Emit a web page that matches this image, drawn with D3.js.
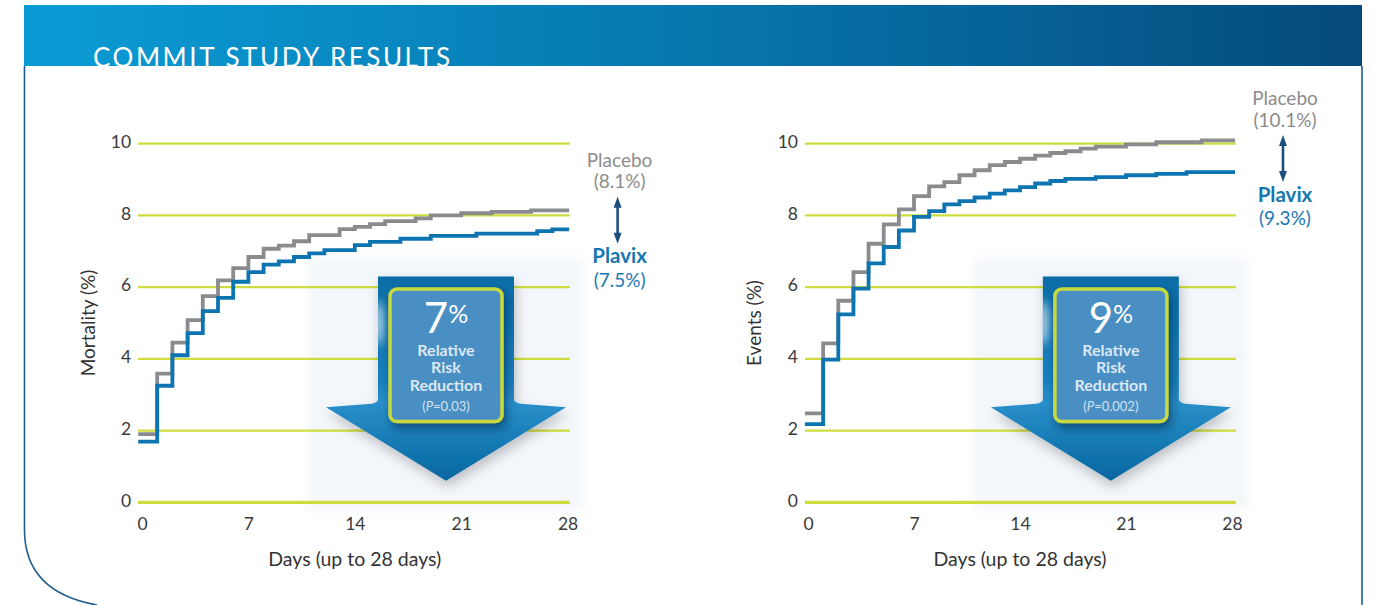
<!DOCTYPE html>
<html>
<head>
<meta charset="utf-8">
<script src="https://cdn.jsdelivr.net/npm/d3@7"></script>
<style>
  html, body { margin: 0; padding: 0; background: #ffffff; }
  svg { display: block; font-family: Lato, "Open Sans", "DejaVu Sans", sans-serif; }
</style>
</head>
<body>
<svg id="chart" width="1373" height="605"></svg>
<script>
// ---------------- DATA ----------------
const titleText = "COMMIT STUDY RESULTS";
const xTicks = [0, 7, 14, 21, 28];
const yTicks = [0, 2, 4, 6, 8, 10];
const xAxisTitle = "Days (up to 28 days)";
const yTitles = ["Mortality (%)", "Events (%)"];

// [day, cumulative %] step points
const placeboMortality = [[-0.25,1.90],[1,3.59],[2,4.45],[3,5.08],[4,5.75],[5,6.19],[6,6.53],[7,6.84],[8,7.07],[9,7.16],[10,7.28],[11,7.45],[13,7.62],[14,7.68],[15,7.76],[16,7.84],[18,7.92],[19,8.00],[21,8.06],[23,8.10],[25.6,8.14],[28.1,8.14]];
const plavixMortality  = [[-0.25,1.69],[1,3.25],[2,4.10],[3,4.72],[4,5.33],[5,5.70],[6,6.15],[7,6.42],[8,6.63],[9,6.72],[10,6.84],[11,6.94],[12,7.03],[14,7.17],[15,7.26],[17,7.35],[19,7.43],[22,7.49],[26,7.56],[27,7.61],[28.1,7.61]];
const placeboEvents    = [[-0.2,2.48],[1,4.43],[2,5.62],[3,6.42],[4,7.21],[5,7.75],[6,8.17],[7,8.54],[8,8.81],[9,8.93],[10,9.12],[11,9.26],[12,9.40],[13,9.49],[14,9.58],[15,9.67],[16,9.74],[17,9.79],[18,9.86],[19,9.92],[21,9.98],[23,10.04],[26,10.09],[28.2,10.09]];
const plavixEvents     = [[-0.2,2.18],[1,3.98],[2,5.24],[3,5.96],[4,6.66],[5,7.12],[6,7.58],[7,7.96],[8,8.12],[9,8.31],[10,8.40],[11,8.50],[12,8.61],[13,8.70],[14,8.79],[15,8.89],[16,8.96],[17,9.02],[19,9.07],[21,9.12],[23,9.16],[25,9.21],[28.2,9.21]];

const seriesNames = ["Placebo", "Plavix"];
const endLabels = [["(8.1%)", "(7.5%)"], ["(10.1%)", "(9.3%)"]];
const rrrPercent = ["7", "9"];
const rrrLines = ["Relative", "Risk", "Reduction"];
const pValues = ["0.03", "0.002"];

// ---------------- SETUP ----------------
const svg = d3.select("#chart");
const defs = svg.append("defs");

const hg = defs.append("linearGradient").attr("id", "headGrad").attr("x1", "0").attr("x2", "1").attr("y1", "0").attr("y2", "0");
hg.append("stop").attr("offset", "0").attr("stop-color", "#0b9cd5");
hg.append("stop").attr("offset", "0.5").attr("stop-color", "#0677ae");
hg.append("stop").attr("offset", "1").attr("stop-color", "#054a7b");

const ag = defs.append("linearGradient").attr("id", "arrowGrad").attr("x1", "0").attr("x2", "0").attr("y1", "0").attr("y2", "1");
ag.append("stop").attr("offset", "0").attr("stop-color", "#0a6ca6");
ag.append("stop").attr("offset", "0.5").attr("stop-color", "#1680bf");
ag.append("stop").attr("offset", "0.62").attr("stop-color", "#2a8fca");
ag.append("stop").attr("offset", "1").attr("stop-color", "#05669f");

const sh = defs.append("filter").attr("id", "arrowShadow").attr("x", "-30%").attr("y", "-30%").attr("width", "160%").attr("height", "160%");
sh.append("feDropShadow").attr("dx", 2).attr("dy", 6).attr("stdDeviation", 6).attr("flood-color", "#000").attr("flood-opacity", 0.22);

const bs = defs.append("filter").attr("id", "boxShadow").attr("x", "-30%").attr("y", "-30%").attr("width", "160%").attr("height", "160%");
bs.append("feDropShadow").attr("dx", 3).attr("dy", 5).attr("stdDeviation", 5).attr("flood-color", "#02223d").attr("flood-opacity", 0.55);

const gl = defs.append("filter").attr("id", "glow").attr("x", "-20%").attr("y", "-20%").attr("width", "140%").attr("height", "140%");
gl.append("feGaussianBlur").attr("stdDeviation", 5);

const hl = defs.append("filter").attr("id", "hilite").attr("x", "-200%").attr("y", "-100%").attr("width", "500%").attr("height", "300%");
hl.append("feGaussianBlur").attr("stdDeviation", 4);

defs.append("clipPath").attr("id", "headClip").append("rect").attr("x", 24).attr("y", 5).attr("width", 1338).attr("height", 61);

// ---------------- HEADER & FRAME ----------------
svg.append("rect").attr("x", 24).attr("y", 5).attr("width", 1338).attr("height", 61).attr("fill", "url(#headGrad)");
svg.append("text").attr("x", 93).attr("y", 66.5).attr("clip-path", "url(#headClip)")
  .attr("fill", "#ffffff").attr("font-size", 26).attr("textLength", 357).attr("lengthAdjust", "spacing")
  .text(titleText);

svg.append("path").attr("d", "M24.5,66 L24.5,530 Q24.5,592 97,605")
  .attr("fill", "none").attr("stroke", "#1f5d8f").attr("stroke-width", 1.6);
svg.append("line").attr("x1", 1362).attr("x2", 1362).attr("y1", 66).attr("y2", 605)
  .attr("stroke", "#1f5d8f").attr("stroke-width", 1.6);

// ---------------- PANELS ----------------
const y = d3.scaleLinear().domain([0, 10]).range([502.3, 143.7]);
const panels = [
  { x: d3.scaleLinear().domain([0, 28]).range([142, 567.6]), placebo: placeboMortality, plavix: plavixMortality, yTitle: yTitles[0], titleX: 95, gridStart: -0.26, gridEnd: 28.15, labelDx: 52, labelTop: 166.7 },
  { x: d3.scaleLinear().domain([0, 28]).range([808, 1232]), placebo: placeboEvents, plavix: plavixEvents, yTitle: yTitles[1], titleX: 761, gridStart: -0.2, gridEnd: 28.25, labelDx: 53, labelTop: 105 }
];

panels.forEach((p, i) => {
  const x = p.x;
  const g = svg.append("g");

  // soft light panel behind arrow
  const cx = x(20);
  g.append("rect").attr("x", cx - 138).attr("y", y(6.8)).attr("width", 276).attr("height", y(-0.2) - y(6.8))
    .attr("fill", "#f1f5f9").attr("opacity", 0.8).attr("filter", "url(#glow)");

  // gridlines
  g.append("g").selectAll("line").data(yTicks).join("line")
    .attr("x1", x(p.gridStart)).attr("x2", x(p.gridEnd))
    .attr("y1", d => y(d)).attr("y2", d => y(d))
    .attr("stroke", "#cfdc3e").attr("stroke-width", d => d === 0 ? 3.2 : 2.3);

  // axes
  const ya = g.append("g").attr("transform", `translate(${x(p.gridStart)},0)`)
    .call(d3.axisLeft(y).tickValues(yTicks).tickSize(0).tickPadding(7).tickFormat(d3.format("d")));
  ya.select(".domain").remove();
  ya.selectAll("text").attr("font-size", 17.5).attr("fill", "#3a3a3a").attr("font-family", "Lato, sans-serif").attr("dy", "0.22em");

  const xa = g.append("g").attr("transform", `translate(0,${y(0)})`)
    .call(d3.axisBottom(x).tickValues(xTicks).tickSize(0).tickPadding(15).tickFormat(d3.format("d")));
  xa.select(".domain").remove();
  xa.selectAll("text").attr("font-size", 17.5).attr("fill", "#3a3a3a").attr("font-family", "Lato, sans-serif");

  g.append("text").attr("x", x(14)).attr("y", 566).attr("text-anchor", "middle")
    .attr("font-size", 19.5).attr("fill", "#333").text(xAxisTitle);
  g.append("text").attr("transform", `translate(${p.titleX},${y(5)}) rotate(-90)`).attr("text-anchor", "middle")
    .attr("font-size", 19).attr("fill", "#333").text(p.yTitle);

  // step lines
  const line = d3.line().x(d => x(d[0])).y(d => y(d[1])).curve(d3.curveStepAfter);
  g.append("path").datum(p.placebo).attr("d", line).attr("fill", "none")
    .attr("stroke", "#8a8b8e").attr("stroke-width", 3.8).attr("stroke-linejoin", "miter");
  g.append("path").datum(p.plavix).attr("d", line).attr("fill", "none")
    .attr("stroke", "#0b74b1").attr("stroke-width", 3.8).attr("stroke-linejoin", "miter");

  // end labels
  const lx = x(28) + p.labelDx;
  const t0 = p.labelTop;
  g.append("text").attr("x", lx).attr("y", t0).attr("text-anchor", "middle").attr("font-size", 19).attr("fill", "#8c8c8c").text(seriesNames[0]);
  g.append("text").attr("x", lx).attr("y", t0 + 21.6).attr("text-anchor", "middle").attr("font-size", 19).attr("fill", "#8c8c8c").text(endLabels[i][0]);
  const a1 = t0 + 30, a2 = t0 + 77;
  g.append("line").attr("x1", lx - 2).attr("x2", lx - 2).attr("y1", a1 + 6).attr("y2", a2 - 6).attr("stroke", "#1d4f7c").attr("stroke-width", 2.6);
  g.append("path").attr("d", `M${lx - 2},${a1} L${lx + 2},${a1 + 11} L${lx - 6},${a1 + 11} Z M${lx - 2},${a2} L${lx + 2},${a2 - 11} L${lx - 6},${a2 - 11} Z`).attr("fill", "#1d4f7c");
  g.append("text").attr("x", lx).attr("y", t0 + 96.6).attr("text-anchor", "middle").attr("font-size", 20.5).attr("font-weight", "bold").attr("fill", "#1577b0").text(seriesNames[1]);
  g.append("text").attr("x", lx).attr("y", t0 + 120).attr("text-anchor", "middle").attr("font-size", 19).attr("fill", "#1a78b3").text(endLabels[i][1]);

  // big arrow
  const top = y(6.3), join = y(2.85), wing = y(2.65), tip = y(0.6);
  const sw = 68, ww = 120;
  const arrowD = `M${cx - sw},${top} L${cx + sw},${top} L${cx + sw},${join} Q${cx + sw + 2},${join + 4} ${cx + sw + 10},${join + 4} L${cx + ww},${wing} L${cx},${tip} L${cx - ww},${wing} L${cx - sw - 10},${join + 4} Q${cx - sw - 2},${join + 4} ${cx - sw},${join} Z`;
  g.append("path").attr("d", arrowD).attr("fill", "url(#arrowGrad)").attr("filter", "url(#arrowShadow)");
  const clipId = "arrClip" + i;
  defs.append("clipPath").attr("id", clipId).append("path").attr("d", arrowD);
  g.append("ellipse").attr("cx", cx - sw + 1).attr("cy", y(5)).attr("rx", 5).attr("ry", 22)
    .attr("fill", "#cfe2f1").attr("opacity", 0.85).attr("filter", "url(#hilite)").attr("clip-path", `url(#${clipId})`);

  // inner box
  const bx0 = cx - 56, bx1 = cx + 56, by0 = y(5.95), by1 = y(2.25);
  g.append("rect").attr("x", bx0).attr("y", by0).attr("width", bx1 - bx0).attr("height", by1 - by0).attr("rx", 7)
    .attr("fill", "#4a8fc3").attr("stroke", "#c8da3a").attr("stroke-width", 3.5).attr("filter", "url(#boxShadow)");

  const big = g.append("text").attr("x", cx).attr("y", by0 + 44.5).attr("text-anchor", "middle").attr("fill", "#ffffff");
  big.append("tspan").attr("font-size", 42).text(rrrPercent[i]);
  big.append("tspan").attr("font-size", 25).attr("dy", -10).text("%");

  rrrLines.forEach((t, k) => {
    g.append("text").attr("x", cx).attr("y", by0 + 67 + k * 17.4).attr("text-anchor", "middle")
      .attr("font-size", 16).attr("font-weight", "bold").attr("fill", "#dce8f3").text(t);
  });
  const pv = g.append("text").attr("x", cx).attr("y", by0 + 122).attr("text-anchor", "middle")
    .attr("font-size", 13).attr("fill", "#d3e2f0");
  pv.append("tspan").text("(");
  pv.append("tspan").attr("font-style", "italic").text("P");
  pv.append("tspan").text("=" + pValues[i] + ")");
});
</script>
</body>
</html>
